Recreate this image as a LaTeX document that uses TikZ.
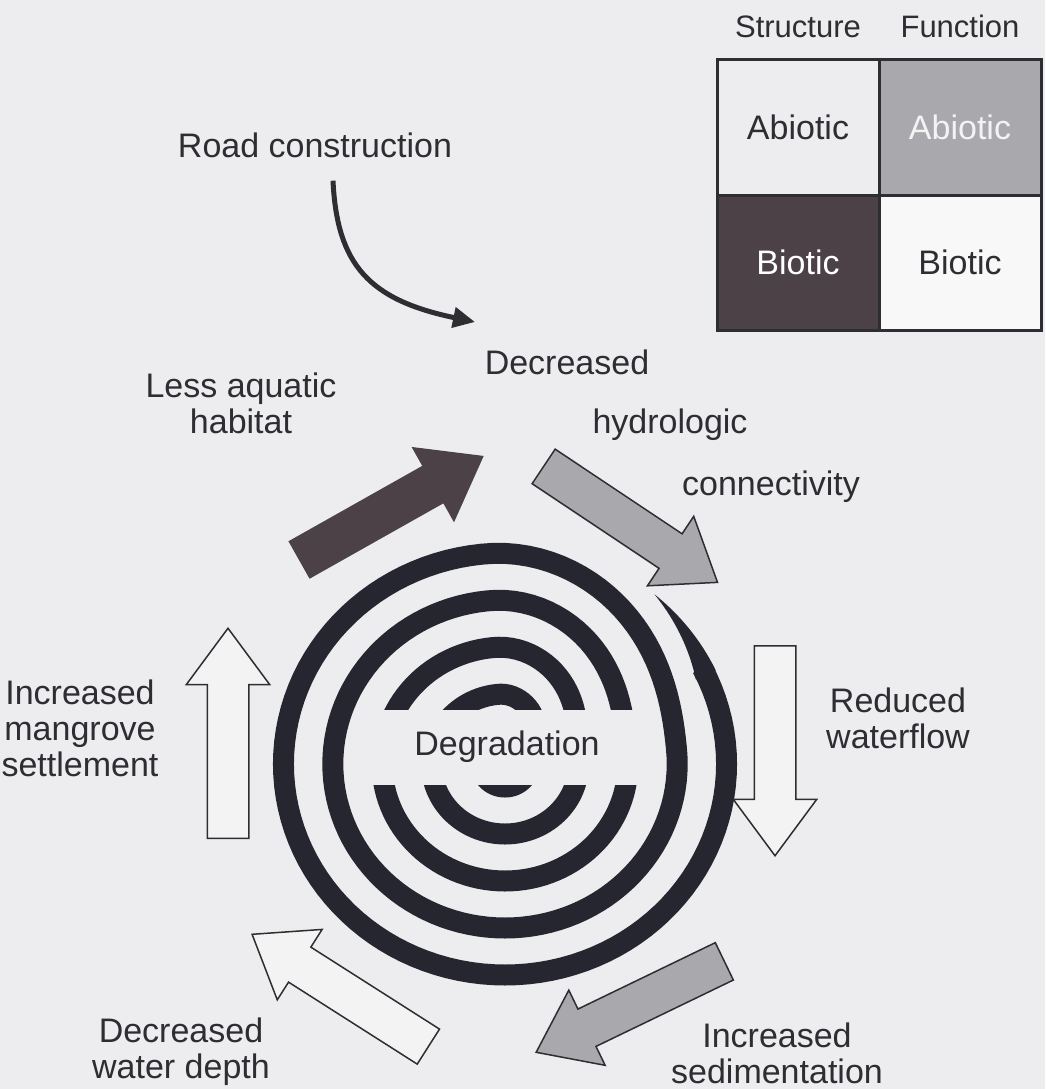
\documentclass[tikz,border=0pt]{standalone}
\usepackage{fontspec}
\setmainfont{Liberation Sans}
\usepackage{tikz}
\usetikzlibrary{positioning,arrows.meta,shapes.arrows,calc}

\definecolor{paper}{RGB}{237,237,239}
\definecolor{inkcolor}{RGB}{45,45,50}
\definecolor{ringcolor}{RGB}{38,38,48}
\definecolor{bioticcolor}{RGB}{75,65,71}
\definecolor{abioticcolor}{RGB}{169,169,173}
\definecolor{lightcolor}{RGB}{243,243,243}

\tikzset{
    label text/.style={font=\fontsize{34}{36}\selectfont, text=inkcolor, align=center, inner sep=0pt},
    cell/.style={rectangle, draw=inkcolor, line width=3pt, minimum width=162pt, minimum height=135pt, inner sep=0pt, outer sep=0pt, text=inkcolor, font=\fontsize{34}{36}\selectfont},
    block arrow/.style={single arrow, draw=inkcolor, line width=1.5pt, inner xsep=0pt, inner ysep=20pt, single arrow head extend=21pt, single arrow tip angle=73, anchor=tail},
    biotic arrow/.style={block arrow, fill=bioticcolor, draw=bioticcolor},
    abiotic arrow/.style={block arrow, fill=abioticcolor},
    light arrow/.style={block arrow, fill=lightcolor},
    road arrow/.style={-{Triangle[length=22pt,width=20pt]}, line width=5pt, draw=inkcolor}
}

\begin{document}
\begin{tikzpicture}[x=1pt, y=-1pt,
    declare function={ramp(\a,\k)=min(1,max(0,(95-360*\k-\a)/90));
        smooth(\a,\k)=ramp(\a,\k)*ramp(\a,\k)*(3-2*ramp(\a,\k));
        sprad(\a)=211-47*(smooth(\a,1)+smooth(\a,2)+smooth(\a,3)+smooth(\a,4));}]
\fill[paper] (0,0) rectangle (1045,1089);

% degradation spiral
\draw[ringcolor, line width=21pt] plot[domain=0:1647, samples=550, variable=\s]
    ({505+1.05*sprad(27-\s)*cos(27-\s)}, {764-sprad(27-\s)*sin(27-\s)});
\fill[ringcolor] plot[domain=25:50, samples=20, variable=\a] ({505+1.05*221.5*cos(\a)}, {764-221.5*sin(\a)})
    -- plot[domain=0:25, samples=20, variable=\b] ({505+1.05*(221.5-0.84*\b)*cos(50-\b)}, {764-(221.5-0.84*\b)*sin(50-\b)}) -- cycle;
\fill[paper] (358,710) rectangle (652,785);
\node[label text] (degr) at (507,747) {Degradation};

% legend
\node[cell, fill=paper] (sa) at (798,127.5) {Abiotic};
\node[cell, fill=abioticcolor, text=lightcolor, right=0pt of sa] (fa) {Abiotic};
\node[cell, fill=bioticcolor, text=white, below=0pt of sa] (sb) {Biotic};
\node[cell, fill=white!60!paper, right=0pt of sb] (fb) {Biotic};
\node[label text, font=\fontsize{31}{35}\selectfont, above=22pt of sa] (struct) {Structure};
\node[label text, font=\fontsize{31}{35}\selectfont, above=22pt of fa] (func) {Function};

% labels
\node[label text] (road) at (315,145) {Road construction};
\node[label text] (decr) at (567,362) {Decreased};
\node[label text] (hydro) at (670,425) {hydrologic};
\node[label text] (conn) at (771,487) {connectivity};
\node[label text] (aquatic) at (241,403) {Less aquatic\\habitat};
\node[label text] (reduced) at (898,718) {Reduced\\waterflow};
\node[label text] (mangrove) at (80,728) {Increased\\mangrove\\settlement};
\node[label text] (depth) at (181,1052) {Decreased\\water depth};
\node[label text] (sedim) at (777,1053) {Increased\\sedimentation};

% cycle arrows
\node[biotic arrow, minimum height=210pt, rotate=29.4] (habarrow) at (299,560) {};
\node[abiotic arrow, minimum height=209pt, rotate=-33.7] (hydarrow) at (543,466) {};
\node[light arrow, minimum height=210pt, rotate=-90] (flowarrow) at (775,645) {};
\node[abiotic arrow, minimum height=209pt, rotate=-154.2] (sedarrow) at (725,961) {};
\node[light arrow, minimum height=209pt, rotate=147.5] (deptharrow) at (429,1047) {};
\node[light arrow, minimum height=210pt, rotate=90] (mangarrow) at (228,839) {};

\coordinate (roadtip) at (475,322);
\draw[road arrow] ([xshift=18pt,yshift=-23pt]road.south) .. controls +(4,85) and +(-105,-22) .. (roadtip);
\end{tikzpicture}
\end{document}
